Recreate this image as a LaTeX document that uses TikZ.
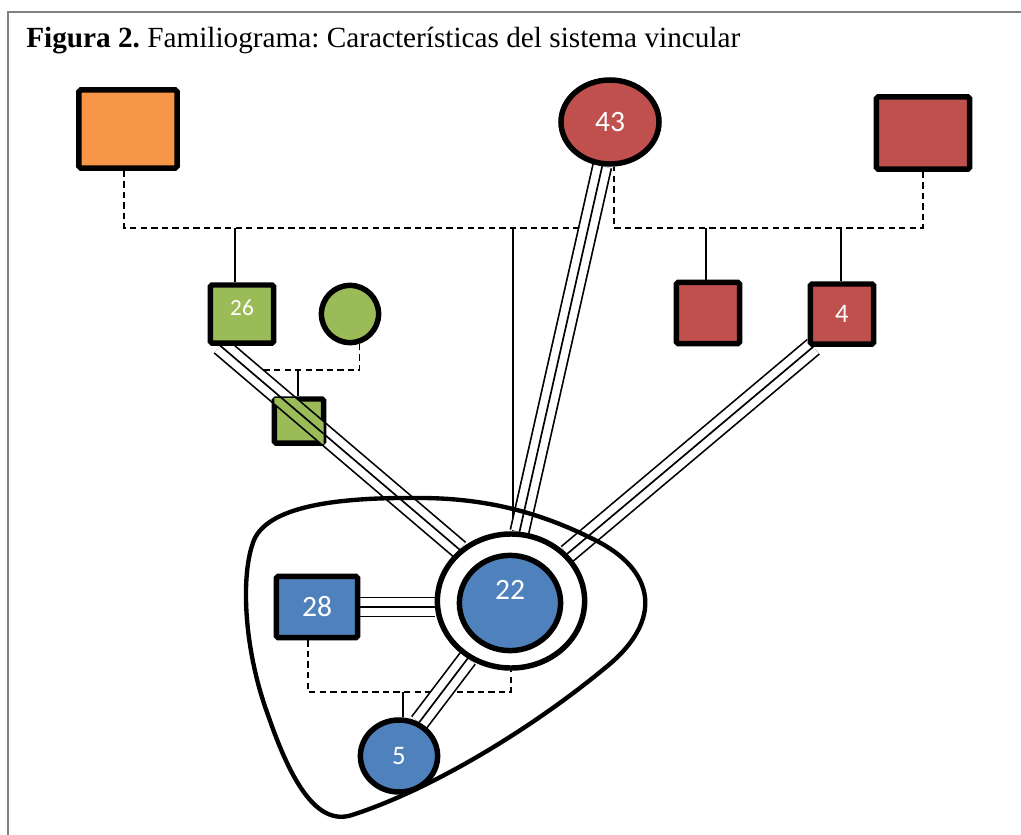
\documentclass[tikz,border=0pt]{standalone}
\usepackage{fontspec}
\setmainfont{Liberation Serif}
\newfontfamily\calibri{Carlito}
\usetikzlibrary{shapes.geometric,positioning,backgrounds}
\definecolor{famorange}{HTML}{F79646}
\definecolor{famred}{HTML}{C0504D}
\definecolor{famgreen}{HTML}{9BBB59}
\definecolor{famblue}{HTML}{4F81BD}
\frenchspacing

\begin{document}
\begin{tikzpicture} [
        x = 0.025cm, y = -0.025cm,
        inner sep = 0,
        every node/.style = {text = white, font = \calibri\fontsize{21}{23}\selectfont},
        male/.style = {draw, rectangle, rounded corners = 1.2pt, line width = 3.9pt},
        female/.style = {draw, ellipse, line width = 3.9pt},
        union/.style = {line width = 1.1pt, dash pattern = on 4.5pt off 3pt},
        link/.style = {line width = 1.1pt},
        triple/.style = {line width = 1.2pt,
            preaction = {draw = black, line width = 14.5pt},
            preaction = {draw = #1, line width = 12.1pt}},
        triple/.default = white
        ]
        \useasboundingbox (0,0) rectangle (1021,835);
        \draw [black!50, line width = 1.1pt] (8,835) -- (8,12) -- (1021,12);

        \node [anchor = base west, text = black, font = \fontsize{20.8}{24}\selectfont] (title) at (26,47)
            {\textbf{Figura 2.} Familiograma: Características del sistema vincular};

        % abuelos
        \node [male, fill = famorange, minimum width = 2.45cm, minimum height = 1.95cm] (gfa) at (128,129) {};
        \node [female, fill = famred, minimum width = 2.45cm, minimum height = 2.1cm] (gmo) at (610,122) {43};
        \node [male, fill = famred, minimum width = 2.33cm, minimum height = 1.8cm] (gfb) at (923,133) {};

        % hijos
        \node [male, fill = famgreen, minimum width = 1.58cm, minimum height = 1.45cm,
            font = \calibri\fontsize{16.5}{18}\selectfont, text depth = 8.6pt] (fa) at (242,314) {26};
        \node [female, fill = famgreen, minimum width = 1.43cm, minimum height = 1.43cm] (mo) at (350,314) {};
        \node [male, fill = famred, minimum width = 1.58cm, minimum height = 1.53cm] (un) at (708,313) {};
        \node [male, fill = famred, minimum width = 1.58cm, minimum height = 1.5cm,
            font = \calibri\fontsize{19}{21}\selectfont] (b4) at (842,314) {4};
        \node [male, fill = famgreen, minimum width = 1.23cm, minimum height = 1.1cm] (br) at (299,421) {};

        % sistema vincular
        \node [female, fill = white, minimum width = 3.68cm, minimum height = 3.35cm] (ring) at (511,601) {};
        \node [female, fill = famblue, minimum width = 2.53cm, minimum height = 2.38cm, text depth = 18.5pt] (ego) at (510,603) {22};
        \node [male, fill = famblue, minimum width = 2.03cm, minimum height = 1.53cm] (pa) at (317,607) {28};
        \node [female, fill = famblue, minimum width = 1.93cm, minimum height = 1.8cm,
            font = \calibri\fontsize{19}{21}\selectfont] (son) at (399,756) {5};

        \coordinate (kfa) at (235,228);
        \coordinate (kego) at (513,228);
        \coordinate (kun) at (706,228);
        \coordinate (kb4) at (841,228);
        \coordinate (kbr) at (298,370);
        \coordinate (kson) at (403,692);

        \begin{scope} [on background layer]
            \draw [union] ([xshift = -2.8pt]gfa.south) |- (kego) -| (gmo.-105);
            \draw [union] (gfb.south) |- (kb4) -| (gmo.-85);
            \draw [union] (kfa |- fa.south) |- (kbr) -| (mo.-72);
            \draw [union] ([xshift = -6.4pt]pa.south) |- (kson) -| (ring.south);

            \draw [link] (kfa) -- (kfa |- fa.north);
            \draw [link] (kego) -- (kego |- ring.north);
            \draw [link] (kun) -- (kun |- un.north);
            \draw [link] (kb4) -- (kb4 |- b4.north);
            \draw [link] (kbr) -- (kbr |- br.north);
            \draw [link] (kson) -- (kson |- son.north);

            \draw [triple] ([xshift = 9pt]fa.south west) -- (ring.135);
            \draw [triple] (gmo.-100) -- (ring.83);
            \draw [triple] ([xshift = 4pt]b4.south west) -- (ring.40);
            \draw [triple] (pa.east) -- (pa.east -| ring.west);
            \draw [triple] (ring.-127) -- (son.59);
        \end{scope}

        \begin{scope}
            \clip ([shift = {(1.9pt,1.9pt)}]br.south west) rectangle ([shift = {(-1.9pt,-1.9pt)}]br.north east);
            \draw [triple = famgreen] ([xshift = 9pt]fa.south west) -- (ring.135);
        \end{scope}

        \draw [line width = 3.1pt] (420,498) .. controls (330,497) and (268,508) .. (254,540)
            .. controls (240,575) and (244,650) .. (268,715)
            .. controls (292,785) and (318,826) .. (352,815)
            .. controls (430,790) and (530,730) .. (605,668)
            .. controls (665,620) and (655,570) .. (595,540)
            .. controls (555,520) and (500,498) .. (420,498) -- cycle;
\end{tikzpicture}
\end{document}
